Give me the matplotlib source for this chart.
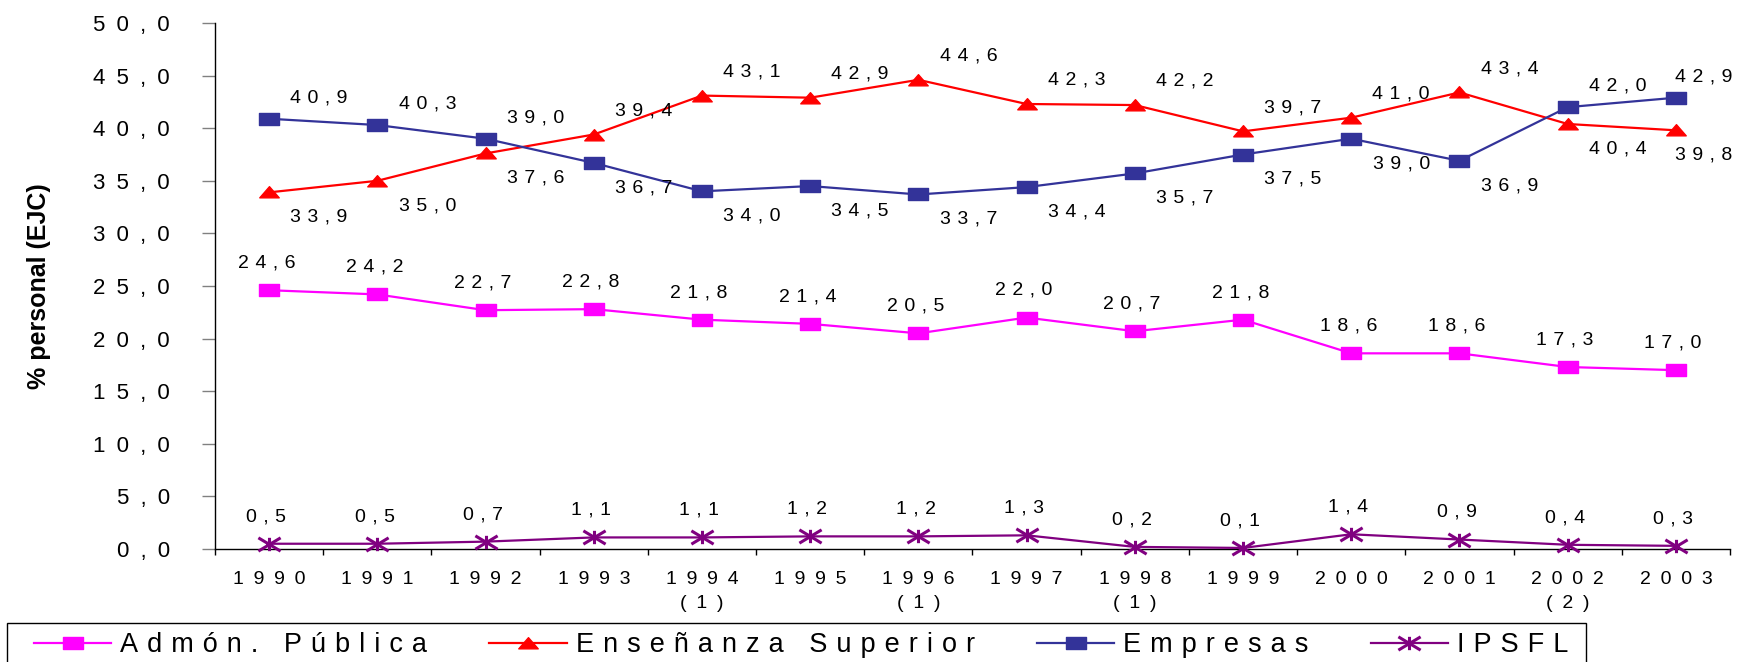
import matplotlib
matplotlib.use("Agg")
import matplotlib.pyplot as plt
from matplotlib.path import Path
from matplotlib.patches import Rectangle


# data
years = ["1990", "1991", "1992", "1993", "1994", "1995", "1996",
         "1997", "1998", "1999", "2000", "2001", "2002", "2003"]
notes = ["", "", "", "", "(1)", "", "(1)", "", "(1)", "", "", "", "(2)", ""]

admon = [24.6, 24.2, 22.7, 22.8, 21.8, 21.4, 20.5, 22.0, 20.7, 21.8, 18.6, 18.6, 17.3, 17.0]
ensenanza = [33.9, 35.0, 37.6, 39.4, 43.1, 42.9, 44.6, 42.3, 42.2, 39.7, 41.0, 43.4, 40.4, 39.8]
empresas = [40.9, 40.3, 39.0, 36.7, 34.0, 34.5, 33.7, 34.4, 35.7, 37.5, 39.0, 36.9, 42.0, 42.9]
ipsfl = [0.5, 0.5, 0.7, 1.1, 1.1, 1.2, 1.2, 1.3, 0.2, 0.1, 1.4, 0.9, 0.4, 0.3]

series_names = ["Admón. Pública", "Enseñanza Superior", "Empresas", "IPSFL"]


plt.rcParams["font.family"] = ["Liberation Sans", "DejaVu Sans"]

EN = "\u2002"
THIRD = "\u2004"

W, H = 1737, 662


def spaced(text, gap=" "):
    """Imitate the expanded character spacing of the original."""
    return gap.join(text)


def num(v):
    return f"{v:.1f}".replace(".", ",")


# markers squashed like in the stretched original
rect = Path([(-1, -0.62), (1, -0.62), (1, 0.62), (-1, 0.62), (-1, -0.62)], closed=True)
tri = Path([(-1, -0.55), (1, -0.55), (0, 0.6), (-1, -0.55)], closed=True)
star = Path([(0, -0.6), (0, 0.6), (-1, -0.6), (1, 0.6), (-1, 0.6), (1, -0.6)],
            [Path.MOVETO, Path.LINETO, Path.MOVETO, Path.LINETO, Path.MOVETO, Path.LINETO])

fig = plt.figure(figsize=(W / 100, H / 100), dpi=100)
ax = fig.add_axes([215 / W, 1 - 549 / H, (1730 - 215) / W, (549 - 23) / H])

x = list(range(len(years)))

l1, = ax.plot(x, admon, color="#FF00FF", lw=1.6, marker=rect, ms=14,
              mfc="#FF00FF", mec="#FF00FF", clip_on=False, zorder=3)
l2, = ax.plot(x, ensenanza, color="#FF0000", lw=1.6, marker=tri, ms=14,
              mfc="#FF0000", mec="#FF0000", clip_on=False, zorder=3)
l3, = ax.plot(x, empresas, color="#333399", lw=1.6, marker=rect, ms=14,
              mfc="#333399", mec="#333399", clip_on=False, zorder=3)
l4, = ax.plot(x, ipsfl, color="#800080", lw=1.6, marker=star, ms=16,
              mfc="none", mec="#800080", mew=2.2, clip_on=False, zorder=3)

ax.set_xlim(-0.5, len(years) - 0.5)
ax.set_ylim(0, 50)

# data labels
label_kw = dict(textcoords="offset points", ha="center", va="center",
                fontsize=14, color="black", annotation_clip=False)
for i in x:
    ax.annotate(spaced(num(admon[i]), THIRD), (i, admon[i]), xytext=(-2, 19.5), **label_kw)
    ax.annotate(spaced(num(ipsfl[i]), THIRD), (i, ipsfl[i]), xytext=(-2, 19.5), **label_kw)

    dx = 20 if i == len(years) - 1 else 36
    if ensenanza[i] >= empresas[i]:
        dy_ens, dy_emp = 17, -18
    else:
        dy_ens, dy_emp = -18, 15
    ax.annotate(spaced(num(ensenanza[i]), THIRD), (i, ensenanza[i]), xytext=(dx, dy_ens), **label_kw)
    ax.annotate(spaced(num(empresas[i]), THIRD), (i, empresas[i]), xytext=(dx, dy_emp), **label_kw)

# axes styling
for side in ["top", "right"]:
    ax.spines[side].set_visible(False)
for side in ["left", "bottom"]:
    ax.spines[side].set_color("black")
    ax.spines[side].set_linewidth(1.0)

yticks = list(range(0, 51, 5))
ax.set_yticks(yticks)
ax.set_yticklabels([spaced(num(v), EN) for v in yticks], fontsize=16)
ax.tick_params(axis="y", length=9.4, width=1, color="#808080", pad=23)

ax.set_xticks(x)
ax.set_xticklabels([spaced(y, EN) + ("\n" + spaced(n, EN) if n else "") for y, n in zip(years, notes)],
                   fontsize=14, linespacing=1.55, va="top")
ax.tick_params(axis="x", which="major", length=0, pad=15.5)
ax.set_xticks([i - 0.5 for i in range(len(years) + 1)], minor=True)
ax.tick_params(axis="x", which="minor", length=4.5, width=1, color="black")

fig.text(39 / W, 1 - 286 / H, "% personal (EJC)", rotation=90, fontsize=18,
         fontweight="bold", ha="center", va="center")

# legend without frame, box drawn separately so the padding can differ per side
leg = fig.legend([l1, l2, l3, l4], [spaced(s, THIRD) for s in series_names],
                 loc="center left", bbox_to_anchor=(34 / W, 1 - 645 / H),
                 ncol=4, fontsize=19.5, frameon=False, borderpad=0, borderaxespad=0,
                 handlelength=2.85, handletextpad=0.33, columnspacing=2.3)
fig.patches.append(Rectangle((7 / W, 1 - 672 / H), (1586 - 7) / W, 49 / H,
                             transform=fig.transFigure, fill=False,
                             edgecolor="black", linewidth=1.0))

fig.savefig("out.png", dpi=100)
plt.close(fig)
